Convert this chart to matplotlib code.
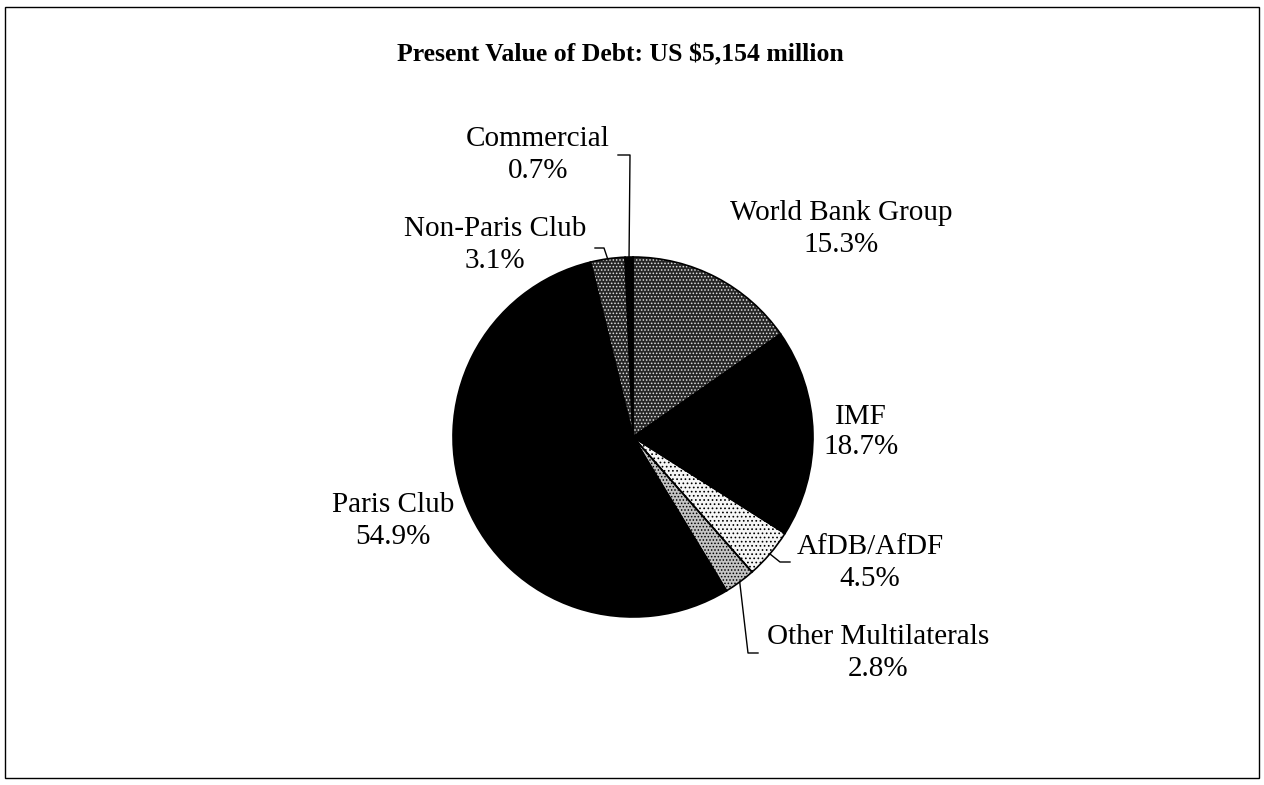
import numpy as np
import matplotlib
matplotlib.use('Agg')
import matplotlib.pyplot as plt
from matplotlib.patches import Wedge, Rectangle

plt.rcParams['font.family'] = ['Liberation Serif', 'DejaVu Serif']
plt.rcParams['hatch.linewidth'] = 0.7

# === DATA ===
labels = ['World Bank Group', 'IMF', 'AfDB/AfDF', 'Other Multilaterals',
          'Paris Club', 'Non-Paris Club', 'Commercial']
shares = [15.3, 18.7, 4.5, 2.8, 54.9, 3.1, 0.7]
title = 'Present Value of Debt: US $5,154 million'

# styles: facecolor, hatch dot colour, hatch
faces = ['#262626', 'black', '#f6f6f6', '#c4c4c4', 'black', '#262626', 'black']
dotcols = ['#e0e0e0', 'black', 'black', 'black', 'black', '#e0e0e0', 'black']
hatches = ['.....', None, '....', '.....', None, '.....', None]

# label block centres (pixel coords, y down) and leader elbows
W, H = 1264, 785
label_pos = [(841, 229), (861, 432), (870, 563), (878, 653),
             (393, 521), (495, 245), (538, 155)]
leaders = {
    'AfDB/AfDF': [(780, 562), (790, 562)],
    'Other Multilaterals': [(748, 653), (758, 653)],
    'Non-Paris Club': [(604, 248), (595, 248)],
    'Commercial': [(630, 155), (618, 155)],
}

cx, cy, R = 633, H - 437, 180

fig = plt.figure(figsize=(W / 100, H / 100), dpi=100)
ax = fig.add_axes([0, 0, 1, 1])

wedges, _ = ax.pie(shares, startangle=90, counterclock=False,
                   center=(cx, cy), radius=R, frame=True,
                   wedgeprops=dict(linewidth=0))
ax.set_xlim(0, W)
ax.set_ylim(0, H)
ax.set_aspect('equal')
ax.axis('off')

for w, fc, dc, h in zip(wedges, faces, dotcols, hatches):
    w.set_facecolor(fc)
    if h:
        w.set_hatch(h)
        w.set_edgecolor(dc)
    else:
        w.set_edgecolor(fc)
    # outline on top
    ax.add_patch(Wedge((cx, cy), R, w.theta1, w.theta2, fill=False,
                       edgecolor='black', linewidth=1.2, zorder=3))

for w, lab, pct, (lx, ly) in zip(wedges, labels, shares, label_pos):
    ax.text(lx, H - ly, f'{lab}\n{pct:.1f}%', ha='center', va='center',
            fontsize=21, linespacing=1.25)
    if lab in leaders:
        mid = np.radians((w.theta1 + w.theta2) / 2)
        pts = [(cx + R * np.cos(mid), cy + R * np.sin(mid))]
        pts += [(x, H - y) for x, y in leaders[lab]]
        xs, ys = zip(*pts)
        ax.plot(xs, ys, color='black', linewidth=1.0, zorder=4)

ax.text(620, H - 55, title, ha='center', va='center',
        fontsize=18.5, fontweight='bold')

# frame round the chart
ax.add_patch(Rectangle((5, H - 778), 1254, 771, fill=False,
                       edgecolor='black', linewidth=1.0))

fig.savefig('out.png', dpi=100)
